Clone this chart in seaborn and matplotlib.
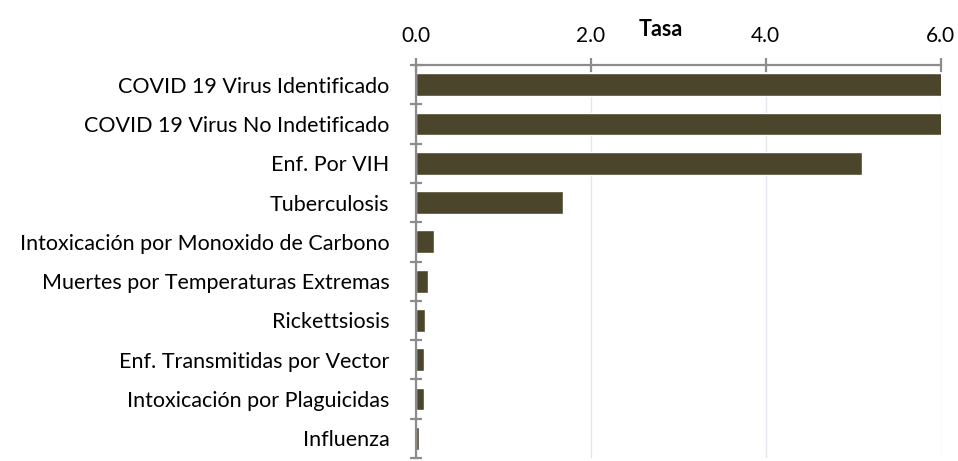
import matplotlib
matplotlib.use('Agg')
import matplotlib.pyplot as plt
import seaborn as sns
import pandas as pd
import numpy as np

# Datos
causas = [
    'COVID 19 Virus Identificado',
    'COVID 19 Virus No Indetificado',
    'Enf. Por VIH',
    'Tuberculosis',
    'Intoxicación por Monoxido de Carbono',
    'Muertes por Temperaturas Extremas',
    'Rickettsiosis',
    'Enf. Transmitidas por Vector',
    'Intoxicación por Plaguicidas',
    'Influenza',
]
tasas = [6.5, 6.3, 5.1, 1.68, 0.21, 0.14, 0.10, 0.09, 0.09, 0.04]
ticks_x = [0.0, 2.0, 4.0, 6.0]

df = pd.DataFrame({'Causa': causas, 'Tasa': tasas})

sns.set_theme(style='white')
plt.rcParams['font.family'] = ['Lato', 'DejaVu Sans']

fig = plt.figure(figsize=(9.58, 4.61), dpi=100)
ax = fig.add_axes([0.434, 0.0065, 0.548, 0.8525])

sns.barplot(data=df, y='Causa', x='Tasa', orient='h', color='#4b462b',
            saturation=1, width=0.58, ax=ax, zorder=3)

ax.set_xlim(0, 6.0)
ax.set_ylim(len(causas) - 0.5, -0.5)
ax.set_xticks(ticks_x)
ax.set_xticklabels([f'{t:.1f}' for t in ticks_x])
ax.xaxis.tick_top()
ax.set_xlabel('')
ax.set_ylabel('')
fig.text(661 / 958, 1 - 30 / 461, 'Tasa', ha='center', va='center',
         fontsize=15.5, fontweight='bold', color='black')

ax.grid(axis='x', color='#e2e6ee', linewidth=1, zorder=0)
ax.set_axisbelow(True)

for s in ['right', 'bottom']:
    ax.spines[s].set_visible(False)
for s in ['top', 'left']:
    ax.spines[s].set_color('#8c8c8c')
    ax.spines[s].set_linewidth(1.6)
    ax.spines[s].set_zorder(4)

ax.tick_params(axis='x', top=True, bottom=False, direction='inout', length=10,
               width=1.6, color='#8c8c8c', labelsize=15, pad=9, labelcolor='black')
# marcas del eje Y entre categorías
ax.set_yticks(np.arange(-0.5, len(causas), 1.0), minor=True)
ax.tick_params(axis='y', which='major', left=False, labelsize=15.5, pad=13,
               labelcolor='black')
ax.tick_params(axis='y', which='minor', left=True, direction='inout', length=9,
               width=1.6, color='#8c8c8c')

fig.savefig('out.png', dpi=100)
